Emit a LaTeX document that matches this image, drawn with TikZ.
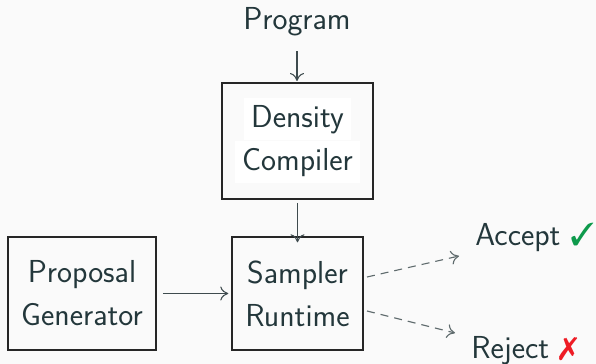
\documentclass[tikz,border=0pt]{standalone}
\usepackage{fontspec}
\usepackage{pifont}
\usetikzlibrary{arrows.meta}
\definecolor{bgc}{HTML}{FAFAFA}
\definecolor{ink}{HTML}{23373B}
\definecolor{boxline}{HTML}{262626}
\definecolor{arrowc}{HTML}{3E4B4E}
\definecolor{dashc}{HTML}{5F6B6D}
\definecolor{okgreen}{HTML}{0E9A4C}
\definecolor{badred}{HTML}{EE1C25}
\begin{document}
\begin{tikzpicture}[x=0.5pt,y=-0.5pt,
  every node/.style={text=ink,font=\sffamily\fontsize{15.9}{21.5}\selectfont},
  tip/.style={-{Computer Modern Rightarrow[length=4pt,width=7pt]}},
  block/.style={draw=boxline,line width=0.75pt,align=center,inner sep=0pt},
  hl/.style={fill=white,inner sep=0pt,inner xsep=3.5pt,text height=14.5pt,text depth=6.5pt,anchor=base},
  flow/.style={draw=arrowc,line width=0.55pt,tip},
  maybe/.style={draw=dashc,line width=0.55pt,tip,dash pattern=on 4pt off 3pt}]
  % canvas
  \fill[bgc] (0,0) rectangle (596,364);
  \useasboundingbox (0,0) rectangle (596,364);

  % top input
  \node[anchor=base] (prog) at (297,30) {Program};

  % density compiler with highlighted lines
  \node[block,minimum width=75.5pt,minimum height=58pt] (dc) at (297.5,141) {};
  \node[hl] (dcl1) at (297.5,127) {Density};
  \node[hl] (dcl2) at (297.5,170) {Compiler};

  % lower row
  \node[block,minimum width=74pt,minimum height=56.5pt] (prop) at (82,293.5) {Proposal\\Generator};
  \node[block,minimum width=65.5pt,minimum height=56.5pt] (samp) at (297.5,293.5) {Sampler\\Runtime};

  % outcomes
  \node[anchor=base west,inner sep=0pt] (acc) at (475,245) {Accept \textcolor{okgreen}{\ding{51}}};
  \node[anchor=base west,inner sep=0pt] (rej) at (471,358) {Reject \textcolor{badred}{\ding{55}}};

  % connectors
  \coordinate (p1) at (297,51);
  \coordinate (p2) at (297,81);
  \draw[flow] (p1) -- (p2);
  \draw[flow] (dc.south) ++(0,3) coordinate (d1) (d1) -- ([yshift=-3pt]samp.north);
  \draw[flow] ([xshift=3pt]prop.east) -- ([xshift=-1.5pt]samp.west);

  \coordinate (a0) at (367,277);
  \coordinate (a1) at (459,256);
  \coordinate (r0) at (367,311);
  \coordinate (r1) at (455,333);
  \draw[maybe] (a0) -- (a1);
  \draw[maybe] (r0) -- (r1);
\end{tikzpicture}
\end{document}
